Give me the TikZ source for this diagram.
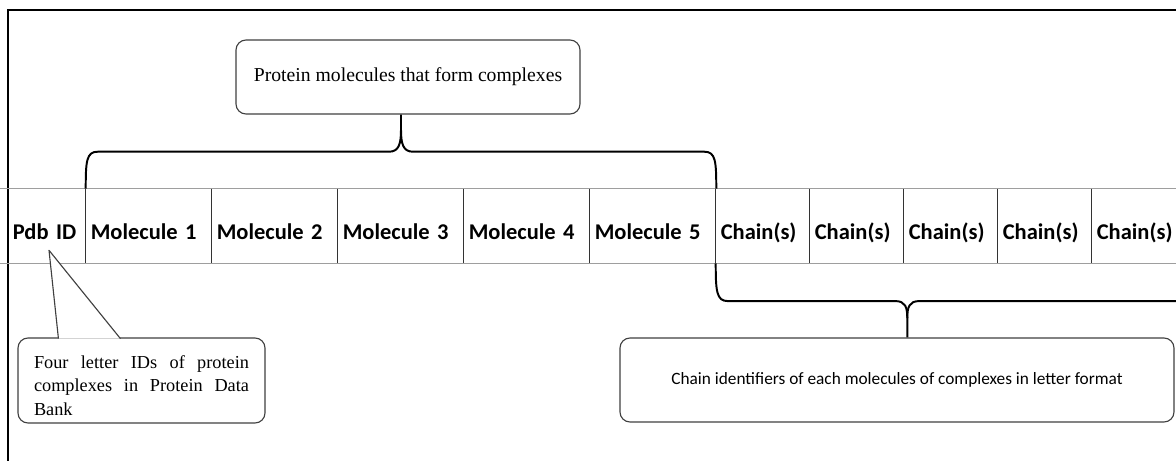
\documentclass[tikz,border=0pt]{standalone}
\usepackage{fontspec}
\setmainfont{Liberation Serif}
\newfontfamily\calibrifont{Carlito}
\usepackage{xcolor}
\usetikzlibrary{calc, positioning}

\begin{document}
\begin{tikzpicture}[
    cell/.style={inner xsep=0.12cm, inner ysep=0pt, minimum height=1.85cm,
        text height=0.66cm, text depth=0cm, align=left,
        font=\calibrifont\bfseries\fontsize{16}{19}\selectfont},
    note/.style={draw=black!75, line width=0.8pt, rounded corners=0.25cm, fill=white},
    brace/.style={line width=1.4pt, line join=round},
    divider/.style={black!80, line width=0.8pt},
    rowline/.style={black!38, line width=0.9pt}
]
    \useasboundingbox (0,0) rectangle (29.4,-11.525);
    \clip (0,0) rectangle (29.4,-11.525);
    \draw[line width=0.9pt] (0.2,-12) |- (30,-0.25);

    \node[cell, text width=1.71cm] (pdb) at (1.175,-5.65) {Pdb ID};
    \foreach \i in {1,...,5}
        \node[cell, text width=2.91cm] (m\i) at ({3.725+3.15*(\i-1)},-5.65) {Molecule \i};
    \foreach \i in {1,...,5}
        \node[cell, text width=2.11cm] (c\i) at ({19.075+2.35*(\i-1)},-5.65) {Chain(s)};

    \draw[rowline] ([xshift=-0.2cm]pdb.north west) -- (c5.north east);
    \draw[rowline] ([xshift=-0.2cm]pdb.south west) -- (c5.south east);
    \foreach \n in {m1,m2,m3,m4,m5,c1,c2,c3,c4,c5}
        \draw[divider] (\n.north west) -- (\n.south west);

    \node[note, minimum width=8.6cm, minimum height=1.85cm, font=\fontsize{14}{17}\selectfont]
        (molbox) at (10.2,-1.925) {Protein molecules that form complexes};
    \node[note, minimum width=13.85cm, minimum height=2.1cm, font=\calibrifont\fontsize{12.3}{15}\selectfont]
        (chainbox) at (22.425,-9.5) {Chain identifiers of each molecules of complexes in letter format};
    \node[note, text width=5.375cm, inner xsep=0.4cm, minimum height=2.125cm, align=justify,
        font=\fontsize{13}{16.7}\selectfont]
        (pdbnote) at (3.5375,-9.5125) {\rule{0pt}{0.57cm}Four letter IDs of protein complexes in Protein Data Bank};

    \coordinate (tip) at ($(pdb.south)+(0.05,0.325)$);
    \draw[black!75, line width=0.8pt, line join=round, fill=white]
        ($(pdbnote.north west)+(1.025,-0.03)$) -- (tip) -- ($(pdbnote.north west)+(2.575,-0.03)$);

    % brace over the molecules
    \coordinate (tb) at ($(m1.north west)!0.5!(m5.north east)+(0,0.925)$);
    \draw[brace] (m1.north west)
        .. controls ($(m1.north west)+(0,0.7)$) and ($(m1.north west)+(0.02,0.925)$) .. ($(m1.north west)+(0.3,0.925)$)
        -- ($(tb)+(-0.3,0)$)
        .. controls ($(tb)+(-0.05,0)$) and ($(tb)+(0,0.2)$) .. ($(tb)+(0,0.55)$)
        -- (tb |- molbox.south);
    \draw[brace] (m5.north east)
        .. controls ($(m5.north east)+(0,0.7)$) and ($(m5.north east)+(-0.02,0.925)$) .. ($(m5.north east)+(-0.3,0.925)$)
        -- ($(tb)+(0.3,0)$)
        .. controls ($(tb)+(0.05,0)$) and ($(tb)+(0,0.2)$) .. ($(tb)+(0,0.55)$);

    % brace under the chains
    \coordinate (bb) at ($(c2.south east)+(0.075,-0.945)$);
    \coordinate (bend) at ($(c5.south east)+(0.6,0)$);
    \draw[brace] (c1.south west)
        .. controls ($(c1.south west)+(0,-0.7)$) and ($(c1.south west)+(0.02,-0.945)$) .. ($(c1.south west)+(0.3,-0.945)$)
        -- ($(bb)+(-0.3,0)$)
        .. controls ($(bb)+(-0.05,0)$) and ($(bb)+(0,-0.15)$) .. ($(bb)+(0,-0.425)$)
        -- (bb |- chainbox.north);
    \draw[brace] (bend)
        .. controls ($(bend)+(0,-0.7)$) and ($(bend)+(-0.02,-0.945)$) .. ($(bend)+(-0.3,-0.945)$)
        -- ($(bb)+(0.3,0)$)
        .. controls ($(bb)+(0.05,0)$) and ($(bb)+(0,-0.15)$) .. ($(bb)+(0,-0.425)$);
\end{tikzpicture}
\end{document}
